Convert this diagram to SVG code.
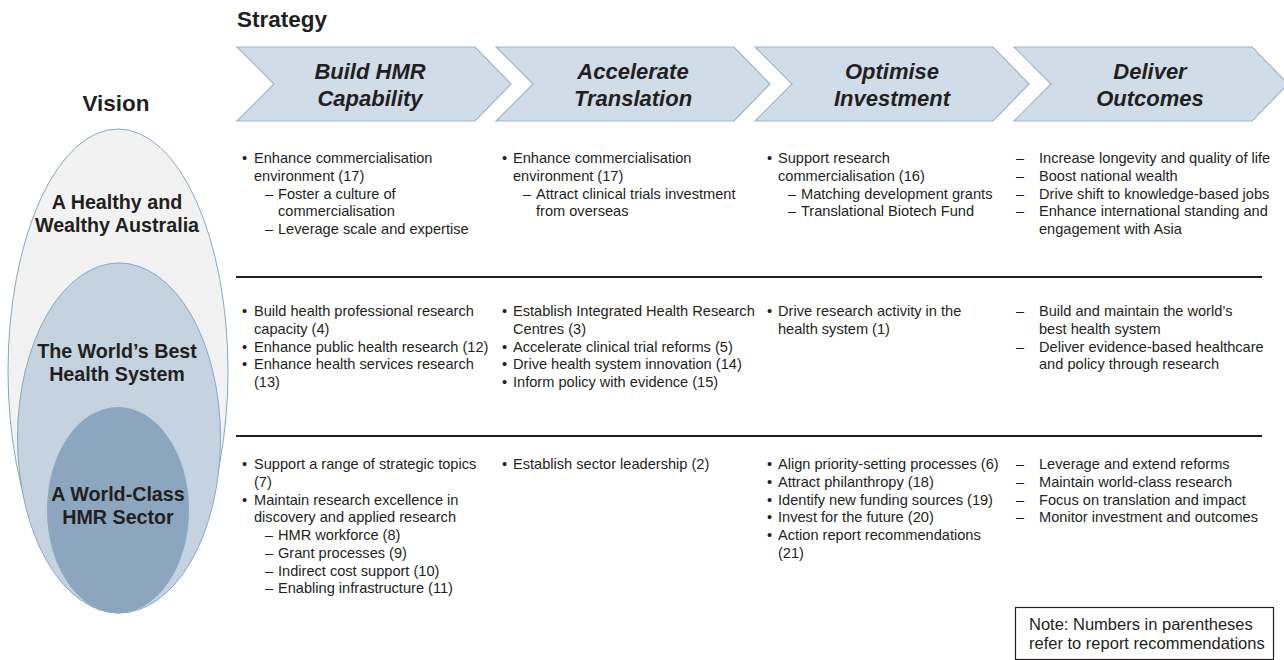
<svg xmlns="http://www.w3.org/2000/svg" width="1284" height="660" viewBox="0 0 1284 660">
<style>
.bg{fill:#ffffff}
.hd{font-family:"Liberation Sans",Arial,sans-serif;font-weight:bold;font-size:22.5px;fill:#231f20}
.chev{fill:#d0dce7;stroke:#9fb5cb;stroke-width:1.2}
.ct{font-family:"Liberation Sans",Arial,sans-serif;font-weight:bold;font-style:italic;font-size:22px;fill:#231f20;text-anchor:middle}
.vl{font-family:"Liberation Sans",Arial,sans-serif;font-weight:bold;font-size:19.7px;fill:#231f20;text-anchor:middle}
.t{font-family:"Liberation Sans",Arial,sans-serif;font-size:14.6px;fill:#231f20}
.sep{stroke:#231f20;stroke-width:2}
.note{fill:#ffffff;stroke:#231f20;stroke-width:1.2}
.nt{font-family:"Liberation Sans",Arial,sans-serif;font-size:16.5px;fill:#231f20}
</style>
<rect class="bg" x="0" y="0" width="1284" height="660"/>
<text class="hd" x="237" y="27">Strategy</text>
<text class="hd" x="116" y="111" text-anchor="middle">Vision</text>

<g id="vision-outer">
<ellipse cx="118" cy="371" rx="110" ry="242" fill="#f2f2f2" stroke="#8aa6c1" stroke-width="1"/>
<text class="vl" x="117" y="209">A Healthy and</text>
<text class="vl" x="117" y="232">Wealthy Australia</text>
</g>
<g id="vision-middle">
<ellipse cx="119" cy="438" rx="101.5" ry="175" fill="#c4d3df" stroke="#8aa6c1" stroke-width="1"/>
<text class="vl" x="117" y="358">The World’s Best</text>
<text class="vl" x="117" y="381">Health System</text>
</g>
<g id="vision-inner">
<ellipse cx="118" cy="510" rx="71" ry="103" fill="#8ba6be"/>
<text class="vl" x="118" y="501">A World-Class</text>
<text class="vl" x="118" y="524">HMR Sector</text>
</g>

<g id="chevron-build">
<polygon class="chev" points="237,47 475,47 511,84 475,121 237,121 274,84"/>
<text class="ct" x="370" y="79">Build HMR</text>
<text class="ct" x="370" y="106">Capability</text>
</g>
<g id="chevron-accelerate">
<polygon class="chev" points="496,47 734,47 770,84 734,121 496,121 533,84"/>
<text class="ct" x="633" y="79">Accelerate</text>
<text class="ct" x="633" y="106">Translation</text>
</g>
<g id="chevron-optimise">
<polygon class="chev" points="755,47 993,47 1029,84 993,121 755,121 792,84"/>
<text class="ct" x="892" y="79">Optimise</text>
<text class="ct" x="892" y="106">Investment</text>
</g>
<g id="chevron-deliver">
<polygon class="chev" points="1014,47 1252,47 1288,84 1252,121 1014,121 1051,84"/>
<text class="ct" x="1150" y="79">Deliver</text>
<text class="ct" x="1150" y="106">Outcomes</text>
</g>

<g id="connectors">
<line class="sep" x1="236" y1="277" x2="1262" y2="277"/>
<line class="sep" x1="236" y1="436" x2="1262" y2="436"/>
</g>

<g id="cell-r1-c1">
<text class="t">
<tspan x="242" y="163">•</tspan><tspan x="254" y="163">Enhance commercialisation</tspan>
<tspan x="254" y="180.75">environment (17)</tspan>
<tspan x="265" y="198.5">–</tspan><tspan x="278" y="198.5">Foster a culture of</tspan>
<tspan x="278" y="216.25">commercialisation</tspan>
<tspan x="265" y="234">–</tspan><tspan x="278" y="234">Leverage scale and expertise</tspan>
</text>
</g>
<g id="cell-r1-c2">
<text class="t">
<tspan x="502" y="163">•</tspan><tspan x="513" y="163">Enhance commercialisation</tspan>
<tspan x="513" y="180.75">environment (17)</tspan>
<tspan x="523" y="198.5">–</tspan><tspan x="536" y="198.5">Attract clinical trials investment</tspan>
<tspan x="536" y="216.25">from overseas</tspan>
</text>
</g>
<g id="cell-r1-c3">
<text class="t">
<tspan x="767" y="163">•</tspan><tspan x="778" y="163">Support research</tspan>
<tspan x="778" y="180.75">commercialisation (16)</tspan>
<tspan x="788" y="198.5">–</tspan><tspan x="801" y="198.5">Matching development grants</tspan>
<tspan x="788" y="216.25">–</tspan><tspan x="801" y="216.25">Translational Biotech Fund</tspan>
</text>
</g>
<g id="cell-r1-c4">
<text class="t">
<tspan x="1016" y="163">–</tspan><tspan x="1039" y="163">Increase longevity and quality of life</tspan>
<tspan x="1016" y="180.75">–</tspan><tspan x="1039" y="180.75">Boost national wealth</tspan>
<tspan x="1016" y="198.5">–</tspan><tspan x="1039" y="198.5">Drive shift to knowledge-based jobs</tspan>
<tspan x="1016" y="216.25">–</tspan><tspan x="1039" y="216.25">Enhance international standing and</tspan>
<tspan x="1039" y="234">engagement with Asia</tspan>
</text>
</g>

<g id="cell-r2-c1">
<text class="t">
<tspan x="242" y="316">•</tspan><tspan x="254" y="316">Build health professional research</tspan>
<tspan x="254" y="333.75">capacity (4)</tspan>
<tspan x="242" y="351.5">•</tspan><tspan x="254" y="351.5">Enhance public health research (12)</tspan>
<tspan x="242" y="369.25">•</tspan><tspan x="254" y="369.25">Enhance health services research</tspan>
<tspan x="254" y="387">(13)</tspan>
</text>
</g>
<g id="cell-r2-c2">
<text class="t">
<tspan x="502" y="316">•</tspan><tspan x="513" y="316">Establish Integrated Health Research</tspan>
<tspan x="513" y="333.75">Centres (3)</tspan>
<tspan x="502" y="351.5">•</tspan><tspan x="513" y="351.5">Accelerate clinical trial reforms (5)</tspan>
<tspan x="502" y="369.25">•</tspan><tspan x="513" y="369.25">Drive health system innovation (14)</tspan>
<tspan x="502" y="387">•</tspan><tspan x="513" y="387">Inform policy with evidence (15)</tspan>
</text>
</g>
<g id="cell-r2-c3">
<text class="t">
<tspan x="767" y="316">•</tspan><tspan x="778" y="316">Drive research activity in the</tspan>
<tspan x="778" y="333.75">health system (1)</tspan>
</text>
</g>
<g id="cell-r2-c4">
<text class="t">
<tspan x="1016" y="316">–</tspan><tspan x="1039" y="316">Build and maintain the world’s</tspan>
<tspan x="1039" y="333.75">best health system</tspan>
<tspan x="1016" y="351.5">–</tspan><tspan x="1039" y="351.5">Deliver evidence-based healthcare</tspan>
<tspan x="1039" y="369.25">and policy through research</tspan>
</text>
</g>

<g id="cell-r3-c1">
<text class="t">
<tspan x="242" y="469">•</tspan><tspan x="254" y="469">Support a range of strategic topics</tspan>
<tspan x="254" y="486.75">(7)</tspan>
<tspan x="242" y="504.5">•</tspan><tspan x="254" y="504.5">Maintain research excellence in</tspan>
<tspan x="254" y="522.25">discovery and applied research</tspan>
<tspan x="265" y="540">–</tspan><tspan x="278" y="540">HMR workforce (8)</tspan>
<tspan x="265" y="557.75">–</tspan><tspan x="278" y="557.75">Grant processes (9)</tspan>
<tspan x="265" y="575.5">–</tspan><tspan x="278" y="575.5">Indirect cost support (10)</tspan>
<tspan x="265" y="593.25">–</tspan><tspan x="278" y="593.25">Enabling infrastructure (11)</tspan>
</text>
</g>
<g id="cell-r3-c2">
<text class="t">
<tspan x="502" y="469">•</tspan><tspan x="513" y="469">Establish sector leadership (2)</tspan>
</text>
</g>
<g id="cell-r3-c3">
<text class="t">
<tspan x="767" y="469">•</tspan><tspan x="778" y="469">Align priority-setting processes (6)</tspan>
<tspan x="767" y="486.75">•</tspan><tspan x="778" y="486.75">Attract philanthropy (18)</tspan>
<tspan x="767" y="504.5">•</tspan><tspan x="778" y="504.5">Identify new funding sources (19)</tspan>
<tspan x="767" y="522.25">•</tspan><tspan x="778" y="522.25">Invest for the future (20)</tspan>
<tspan x="767" y="540">•</tspan><tspan x="778" y="540">Action report recommendations</tspan>
<tspan x="778" y="557.75">(21)</tspan>
</text>
</g>
<g id="cell-r3-c4">
<text class="t">
<tspan x="1016" y="469">–</tspan><tspan x="1039" y="469">Leverage and extend reforms</tspan>
<tspan x="1016" y="486.75">–</tspan><tspan x="1039" y="486.75">Maintain world-class research</tspan>
<tspan x="1016" y="504.5">–</tspan><tspan x="1039" y="504.5">Focus on translation and impact</tspan>
<tspan x="1016" y="522.25">–</tspan><tspan x="1039" y="522.25">Monitor investment and outcomes</tspan>
</text>
</g>

<g id="note">
<rect class="note" x="1015.5" y="607.5" width="258" height="52"/>
<text class="nt"><tspan x="1029" y="630">Note: Numbers in parentheses</tspan><tspan x="1029" y="649">refer to report recommendations</tspan></text>
</g>
</svg>
